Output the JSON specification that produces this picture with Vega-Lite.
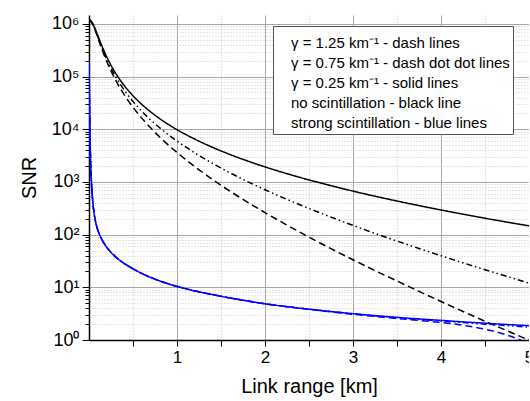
{
  "$schema": "https://vega.github.io/schema/vega-lite/v6.json",
  "width": 440,
  "height": 325,
  "autosize": {"type": "none"},
  "padding": {"left": 89, "top": 15, "right": 0, "bottom": 61},
  "background": "white",
  "config": {"view": {"stroke": null}, "font": "Liberation Sans"},
  "layer": [
    {
      "data": {"values": [
        {"L":0.003,"snr":1198000,"g":"0.25","s":"none"},{"L":0.02,"snr":1151000,"g":"0.25","s":"none"},{"L":0.04,"snr":1033000,"g":"0.25","s":"none"},{"L":0.06,"snr":884000,"g":"0.25","s":"none"},{"L":0.08,"snr":735000,"g":"0.25","s":"none"},{"L":0.1,"snr":604000,"g":"0.25","s":"none"},{"L":0.15,"snr":372000,"g":"0.25","s":"none"},{"L":0.2,"snr":240000,"g":"0.25","s":"none"},{"L":0.25,"snr":164300,"g":"0.25","s":"none"},{"L":0.3,"snr":117900,"g":"0.25","s":"none"},{"L":0.4,"snr":67900,"g":"0.25","s":"none"},{"L":0.5,"snr":43300,"g":"0.25","s":"none"},{"L":0.6,"snr":29720,"g":"0.25","s":"none"},{"L":0.7,"snr":21470,"g":"0.25","s":"none"},{"L":0.8,"snr":16100,"g":"0.25","s":"none"},{"L":1.0,"snr":9864,"g":"0.25","s":"none"},{"L":1.2,"snr":6537,"g":"0.25","s":"none"},{"L":1.4,"snr":4577,"g":"0.25","s":"none"},{"L":1.6,"snr":3337,"g":"0.25","s":"none"},{"L":1.8,"snr":2511,"g":"0.25","s":"none"},{"L":2.0,"snr":1935,"g":"0.25","s":"none"},{"L":2.25,"snr":1438,"g":"0.25","s":"none"},{"L":2.5,"snr":1094,"g":"0.25","s":"none"},{"L":2.75,"snr":850,"g":"0.25","s":"none"},{"L":3.0,"snr":671,"g":"0.25","s":"none"},{"L":3.25,"snr":537,"g":"0.25","s":"none"},{"L":3.5,"snr":435,"g":"0.25","s":"none"},{"L":3.75,"snr":356,"g":"0.25","s":"none"},{"L":4.0,"snr":294,"g":"0.25","s":"none"},{"L":4.25,"snr":245,"g":"0.25","s":"none"},{"L":4.5,"snr":205,"g":"0.25","s":"none"},{"L":4.75,"snr":173,"g":"0.25","s":"none"},{"L":5.0,"snr":147,"g":"0.25","s":"none"},
        {"L":0.003,"snr":1196000,"g":"0.75","s":"none"},{"L":0.02,"snr":1140000,"g":"0.75","s":"none"},{"L":0.04,"snr":1012000,"g":"0.75","s":"none"},{"L":0.06,"snr":858000,"g":"0.75","s":"none"},{"L":0.08,"snr":706000,"g":"0.75","s":"none"},{"L":0.1,"snr":574000,"g":"0.75","s":"none"},{"L":0.15,"snr":345000,"g":"0.75","s":"none"},{"L":0.2,"snr":217400,"g":"0.75","s":"none"},{"L":0.25,"snr":145000,"g":"0.75","s":"none"},{"L":0.3,"snr":101500,"g":"0.75","s":"none"},{"L":0.4,"snr":55600,"g":"0.75","s":"none"},{"L":0.5,"snr":33700,"g":"0.75","s":"none"},{"L":0.6,"snr":22020,"g":"0.75","s":"none"},{"L":0.7,"snr":15130,"g":"0.75","s":"none"},{"L":0.8,"snr":10800,"g":"0.75","s":"none"},{"L":1.0,"snr":5983,"g":"0.75","s":"none"},{"L":1.2,"snr":3588,"g":"0.75","s":"none"},{"L":1.4,"snr":2273,"g":"0.75","s":"none"},{"L":1.6,"snr":1500,"g":"0.75","s":"none"},{"L":1.8,"snr":1021,"g":"0.75","s":"none"},{"L":2.0,"snr":712,"g":"0.75","s":"none"},{"L":2.25,"snr":467,"g":"0.75","s":"none"},{"L":2.5,"snr":314,"g":"0.75","s":"none"},{"L":2.75,"snr":215,"g":"0.75","s":"none"},{"L":3.0,"snr":150,"g":"0.75","s":"none"},{"L":3.25,"snr":105.8,"g":"0.75","s":"none"},{"L":3.5,"snr":75.6,"g":"0.75","s":"none"},{"L":3.75,"snr":54.7,"g":"0.75","s":"none"},{"L":4.0,"snr":39.8,"g":"0.75","s":"none"},{"L":4.25,"snr":29.2,"g":"0.75","s":"none"},{"L":4.5,"snr":21.6,"g":"0.75","s":"none"},{"L":4.75,"snr":16.1,"g":"0.75","s":"none"},{"L":5.0,"snr":12.0,"g":"0.75","s":"none"},
        {"L":0.003,"snr":1195000,"g":"1.25","s":"none"},{"L":0.02,"snr":1128000,"g":"1.25","s":"none"},{"L":0.04,"snr":992000,"g":"1.25","s":"none"},{"L":0.06,"snr":832000,"g":"1.25","s":"none"},{"L":0.08,"snr":679000,"g":"1.25","s":"none"},{"L":0.1,"snr":546000,"g":"1.25","s":"none"},{"L":0.15,"snr":320000,"g":"1.25","s":"none"},{"L":0.2,"snr":196700,"g":"1.25","s":"none"},{"L":0.25,"snr":128000,"g":"1.25","s":"none"},{"L":0.3,"snr":87400,"g":"1.25","s":"none"},{"L":0.4,"snr":45500,"g":"1.25","s":"none"},{"L":0.5,"snr":26280,"g":"1.25","s":"none"},{"L":0.6,"snr":16310,"g":"1.25","s":"none"},{"L":0.7,"snr":10660,"g":"1.25","s":"none"},{"L":0.8,"snr":7236,"g":"1.25","s":"none"},{"L":1.0,"snr":3629,"g":"1.25","s":"none"},{"L":1.2,"snr":1969,"g":"1.25","s":"none"},{"L":1.4,"snr":1129,"g":"1.25","s":"none"},{"L":1.6,"snr":674,"g":"1.25","s":"none"},{"L":1.8,"snr":415,"g":"1.25","s":"none"},{"L":2.0,"snr":262,"g":"1.25","s":"none"},{"L":2.25,"snr":152,"g":"1.25","s":"none"},{"L":2.5,"snr":89.7,"g":"1.25","s":"none"},{"L":2.75,"snr":54.2,"g":"1.25","s":"none"},{"L":3.0,"snr":33.4,"g":"1.25","s":"none"},{"L":3.25,"snr":20.8,"g":"1.25","s":"none"},{"L":3.5,"snr":13.2,"g":"1.25","s":"none"},{"L":3.75,"snr":8.37,"g":"1.25","s":"none"},{"L":4.0,"snr":5.39,"g":"1.25","s":"none"},{"L":4.25,"snr":3.48,"g":"1.25","s":"none"},{"L":4.5,"snr":2.27,"g":"1.25","s":"none"},{"L":4.75,"snr":1.5,"g":"1.25","s":"none"},{"L":5.0,"snr":0.99,"g":"1.25","s":"none"},
        {"L":0.0005,"snr":188000,"g":"1.25","s":"strong"},{"L":0.0015,"snr":150000,"g":"1.25","s":"strong"},{"L":0.003,"snr":90000,"g":"1.25","s":"strong"},{"L":0.006,"snr":35000,"g":"1.25","s":"strong"},{"L":0.01,"snr":11400,"g":"1.25","s":"strong"},{"L":0.015,"snr":4130,"g":"1.25","s":"strong"},{"L":0.02,"snr":2070,"g":"1.25","s":"strong"},{"L":0.028,"snr":988,"g":"1.25","s":"strong"},{"L":0.04,"snr":484,"g":"1.25","s":"strong"},{"L":0.05,"snr":324,"g":"1.25","s":"strong"},{"L":0.06,"snr":242,"g":"1.25","s":"strong"},{"L":0.074,"snr":178.5,"g":"1.25","s":"strong"},{"L":0.085,"snr":149,"g":"1.25","s":"strong"},{"L":0.1,"snr":122.6,"g":"1.25","s":"strong"},{"L":0.12,"snr":100,"g":"1.25","s":"strong"},{"L":0.15,"snr":78.7,"g":"1.25","s":"strong"},{"L":0.2,"snr":58,"g":"1.25","s":"strong"},{"L":0.27,"snr":42.5,"g":"1.25","s":"strong"},{"L":0.35,"snr":32.5,"g":"1.25","s":"strong"},{"L":0.42,"snr":27,"g":"1.25","s":"strong"},{"L":0.5,"snr":22.5,"g":"1.25","s":"strong"},{"L":0.61,"snr":18,"g":"1.25","s":"strong"},{"L":0.8,"snr":13.3,"g":"1.25","s":"strong"},{"L":1.0,"snr":10.4,"g":"1.25","s":"strong"},{"L":1.2,"snr":8.57,"g":"1.25","s":"strong"},{"L":1.37,"snr":7.47,"g":"1.25","s":"strong"},{"L":1.6,"snr":6.28,"g":"1.25","s":"strong"},{"L":1.8,"snr":5.5,"g":"1.25","s":"strong"},{"L":2.0,"snr":4.87,"g":"1.25","s":"strong"},{"L":2.25,"snr":4.29,"g":"1.25","s":"strong"},{"L":2.5,"snr":3.84,"g":"1.25","s":"strong"},{"L":2.75,"snr":3.42,"g":"1.25","s":"strong"},{"L":3.0,"snr":3.08,"g":"1.25","s":"strong"},{"L":3.25,"snr":2.8,"g":"1.25","s":"strong"},{"L":3.5,"snr":2.56,"g":"1.25","s":"strong"},{"L":3.75,"snr":2.35,"g":"1.25","s":"strong"},{"L":4.0,"snr":2.15,"g":"1.25","s":"strong"},{"L":4.25,"snr":1.9,"g":"1.25","s":"strong"},{"L":4.5,"snr":1.6,"g":"1.25","s":"strong"},{"L":4.75,"snr":1.24,"g":"1.25","s":"strong"},{"L":5.0,"snr":0.86,"g":"1.25","s":"strong"},
        {"L":0.0005,"snr":188000,"g":"0.75","s":"strong"},{"L":0.0015,"snr":150000,"g":"0.75","s":"strong"},{"L":0.003,"snr":90000,"g":"0.75","s":"strong"},{"L":0.006,"snr":35000,"g":"0.75","s":"strong"},{"L":0.01,"snr":11400,"g":"0.75","s":"strong"},{"L":0.015,"snr":4130,"g":"0.75","s":"strong"},{"L":0.02,"snr":2070,"g":"0.75","s":"strong"},{"L":0.028,"snr":988,"g":"0.75","s":"strong"},{"L":0.04,"snr":484,"g":"0.75","s":"strong"},{"L":0.05,"snr":324,"g":"0.75","s":"strong"},{"L":0.06,"snr":242,"g":"0.75","s":"strong"},{"L":0.074,"snr":178.5,"g":"0.75","s":"strong"},{"L":0.085,"snr":149,"g":"0.75","s":"strong"},{"L":0.1,"snr":122.6,"g":"0.75","s":"strong"},{"L":0.12,"snr":100,"g":"0.75","s":"strong"},{"L":0.15,"snr":78.7,"g":"0.75","s":"strong"},{"L":0.2,"snr":58,"g":"0.75","s":"strong"},{"L":0.27,"snr":42.5,"g":"0.75","s":"strong"},{"L":0.35,"snr":32.5,"g":"0.75","s":"strong"},{"L":0.42,"snr":27,"g":"0.75","s":"strong"},{"L":0.5,"snr":22.5,"g":"0.75","s":"strong"},{"L":0.61,"snr":18,"g":"0.75","s":"strong"},{"L":0.8,"snr":13.3,"g":"0.75","s":"strong"},{"L":1.0,"snr":10.4,"g":"0.75","s":"strong"},{"L":1.2,"snr":8.57,"g":"0.75","s":"strong"},{"L":1.37,"snr":7.47,"g":"0.75","s":"strong"},{"L":1.6,"snr":6.28,"g":"0.75","s":"strong"},{"L":1.8,"snr":5.5,"g":"0.75","s":"strong"},{"L":2.0,"snr":4.87,"g":"0.75","s":"strong"},{"L":2.25,"snr":4.29,"g":"0.75","s":"strong"},{"L":2.5,"snr":3.84,"g":"0.75","s":"strong"},{"L":2.75,"snr":3.47,"g":"0.75","s":"strong"},{"L":3.0,"snr":3.14,"g":"0.75","s":"strong"},{"L":3.25,"snr":2.88,"g":"0.75","s":"strong"},{"L":3.5,"snr":2.65,"g":"0.75","s":"strong"},{"L":3.75,"snr":2.46,"g":"0.75","s":"strong"},{"L":4.0,"snr":2.3,"g":"0.75","s":"strong"},{"L":4.25,"snr":2.14,"g":"0.75","s":"strong"},{"L":4.5,"snr":2.0,"g":"0.75","s":"strong"},{"L":4.75,"snr":1.87,"g":"0.75","s":"strong"},{"L":5.0,"snr":1.76,"g":"0.75","s":"strong"},
        {"L":0.0005,"snr":188000,"g":"0.25","s":"strong"},{"L":0.0015,"snr":150000,"g":"0.25","s":"strong"},{"L":0.003,"snr":90000,"g":"0.25","s":"strong"},{"L":0.006,"snr":35000,"g":"0.25","s":"strong"},{"L":0.01,"snr":11400,"g":"0.25","s":"strong"},{"L":0.015,"snr":4130,"g":"0.25","s":"strong"},{"L":0.02,"snr":2070,"g":"0.25","s":"strong"},{"L":0.028,"snr":988,"g":"0.25","s":"strong"},{"L":0.04,"snr":484,"g":"0.25","s":"strong"},{"L":0.05,"snr":324,"g":"0.25","s":"strong"},{"L":0.06,"snr":242,"g":"0.25","s":"strong"},{"L":0.074,"snr":178.5,"g":"0.25","s":"strong"},{"L":0.085,"snr":149,"g":"0.25","s":"strong"},{"L":0.1,"snr":122.6,"g":"0.25","s":"strong"},{"L":0.12,"snr":100,"g":"0.25","s":"strong"},{"L":0.15,"snr":78.7,"g":"0.25","s":"strong"},{"L":0.2,"snr":58,"g":"0.25","s":"strong"},{"L":0.27,"snr":42.5,"g":"0.25","s":"strong"},{"L":0.35,"snr":32.5,"g":"0.25","s":"strong"},{"L":0.42,"snr":27,"g":"0.25","s":"strong"},{"L":0.5,"snr":22.5,"g":"0.25","s":"strong"},{"L":0.61,"snr":18,"g":"0.25","s":"strong"},{"L":0.8,"snr":13.3,"g":"0.25","s":"strong"},{"L":1.0,"snr":10.4,"g":"0.25","s":"strong"},{"L":1.2,"snr":8.57,"g":"0.25","s":"strong"},{"L":1.37,"snr":7.47,"g":"0.25","s":"strong"},{"L":1.6,"snr":6.28,"g":"0.25","s":"strong"},{"L":1.8,"snr":5.5,"g":"0.25","s":"strong"},{"L":2.0,"snr":4.87,"g":"0.25","s":"strong"},{"L":2.25,"snr":4.29,"g":"0.25","s":"strong"},{"L":2.5,"snr":3.84,"g":"0.25","s":"strong"},{"L":2.75,"snr":3.47,"g":"0.25","s":"strong"},{"L":3.0,"snr":3.16,"g":"0.25","s":"strong"},{"L":3.25,"snr":2.91,"g":"0.25","s":"strong"},{"L":3.5,"snr":2.69,"g":"0.25","s":"strong"},{"L":3.75,"snr":2.51,"g":"0.25","s":"strong"},{"L":4.0,"snr":2.36,"g":"0.25","s":"strong"},{"L":4.25,"snr":2.21,"g":"0.25","s":"strong"},{"L":4.5,"snr":2.085,"g":"0.25","s":"strong"},{"L":4.75,"snr":1.97,"g":"0.25","s":"strong"},{"L":5.0,"snr":1.87,"g":"0.25","s":"strong"}
      ]},
      "mark": {"type": "line", "clip": true, "strokeWidth": 1.5, "interpolate": "monotone"},
      "encoding": {
        "x": {
          "field": "L", "type": "quantitative",
          "scale": {"domain": [0, 5], "nice": false, "zero": false},
          "axis": {
            "values": [0.5, 1, 1.5, 2, 2.5, 3, 3.5, 4, 4.5, 5],
            "labelExpr": "datum.value % 1 === 0 ? format(datum.value, 'd') : ''",
            "title": "Link range [km]",
            "titleFont": "Liberation Sans", "titleFontSize": 20, "titleFontWeight": "normal", "titleColor": "#000000", "titlePadding": 11,
            "labelFont": "Liberation Sans", "labelFontSize": 17, "labelColor": "#000000", "labelPadding": 3,
            "labelOverlap": false, "labelFlush": false, "labelBound": false,
            "tickSize": 6, "tickColor": "#000000", "tickWidth": 1,
            "domainColor": "#000000", "domainWidth": 1.5,
            "grid": true,
            "gridColor": {"condition": {"test": "datum.value % 1 === 0", "value": "#a8a8a8"}, "value": "#c4c4c4"},
            "gridDash": {"condition": {"test": "datum.value % 1 === 0", "value": []}, "value": [1, 2]}
          }
        },
        "y": {
          "field": "snr", "type": "quantitative",
          "scale": {"type": "log", "domain": [1, 1480000], "nice": false},
          "axis": {
            "values": [1,2,3,4,5,6,7,8,9,10,20,30,40,50,60,70,80,90,100,200,300,400,500,600,700,800,900,1000,2000,3000,4000,5000,6000,7000,8000,9000,10000,20000,30000,40000,50000,60000,70000,80000,90000,100000,200000,300000,400000,500000,600000,700000,800000,900000,1000000],
            "labelExpr": "indexof([1,10,100,1000,10000,100000,1000000], datum.value) >= 0 ? '10' + ['⁰','¹','²','³','⁴','⁵','⁶'][indexof([1,10,100,1000,10000,100000,1000000], datum.value)] : ''",
            "title": "SNR",
            "titleFont": "Liberation Sans", "titleFontSize": 20, "titleFontWeight": "normal", "titleColor": "#000000", "titlePadding": 12,
            "labelFont": "Liberation Sans", "labelFontSize": 18, "labelColor": "#000000", "labelPadding": 3,
            "labelOverlap": false, "labelFlush": false, "labelBound": false,
            "tickColor": "#000000",
            "tickSize": {"condition": {"test": "indexof([1,10,100,1000,10000,100000,1000000], datum.value) >= 0", "value": 7}, "value": 4},
            "domainColor": "#000000", "domainWidth": 1.5,
            "grid": true,
            "gridColor": {"condition": {"test": "indexof([1,10,100,1000,10000,100000,1000000], datum.value) >= 0", "value": "#a8a8a8"}, "value": "#cccccc"},
            "gridDash": {"condition": {"test": "indexof([1,10,100,1000,10000,100000,1000000], datum.value) >= 0", "value": []}, "value": [1, 2]}
          }
        },
        "color": {"field": "s", "type": "nominal", "scale": {"domain": ["none", "strong"], "range": ["#000000", "#0000ff"]}, "legend": null},
        "strokeDash": {"field": "g", "type": "nominal", "scale": {"domain": ["1.25", "0.75", "0.25"], "range": [[7, 4], [6, 3, 1.5, 3, 1.5, 3], [1, 0]]}, "legend": null}
      }
    },
    {
      "data": {"values": [
        {"note": "γ = 1.25 km⁻¹ - dash lines"},
        {"note": "γ = 0.75 km⁻¹ - dash dot dot lines"},
        {"note": "γ = 0.25 km⁻¹ - solid lines"},
        {"note": "no scintillation - black line"},
        {"note": "strong scintillation - blue lines"}
      ]},
      "mark": {"type": "point", "opacity": 0},
      "encoding": {
        "shape": {
          "field": "note", "type": "nominal",
          "scale": {"domain": ["γ = 1.25 km⁻¹ - dash lines", "γ = 0.75 km⁻¹ - dash dot dot lines", "γ = 0.25 km⁻¹ - solid lines", "no scintillation - black line", "strong scintillation - blue lines"]},
          "legend": {
            "title": " ", "titleFontSize": 2, "titlePadding": 4,
            "orient": "none", "legendX": 184, "legendY": 11,
            "symbolSize": 0, "symbolOpacity": 0, "symbolStrokeWidth": 0,
            "labelFont": "Liberation Sans", "labelFontSize": 15, "labelColor": "#000000", "labelOffset": 0, "labelLimit": 400,
            "rowPadding": 4, "padding": 3,
            "strokeColor": "#555555", "fillColor": "#ffffff", "cornerRadius": 0
          }
        }
      }
    }
  ]
}
